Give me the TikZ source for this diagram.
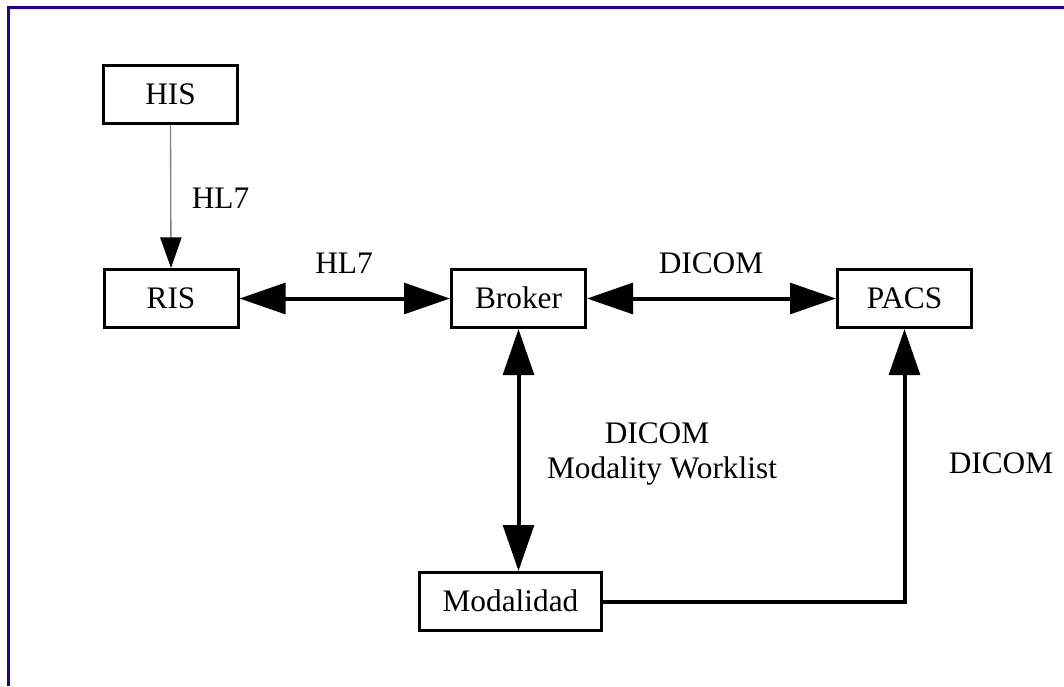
\documentclass[tikz,border=0pt]{standalone}
\usepackage{fontspec}
\setmainfont{Liberation Serif}
\usetikzlibrary{arrows.meta}
\definecolor{framecol}{HTML}{2200A0}
\definecolor{thinline}{HTML}{808080}
\begin{document}
\begin{tikzpicture}[x=0.75pt,y=-0.75pt,
  every node/.style={font=\fontsize{23.5}{26}\selectfont, inner sep=0pt},
  sysbox/.style={draw=black, line width=2.25pt, fill=white,
    minimum width=100.5pt, minimum height=43.5pt,
    text height=15.5pt, text depth=0pt},
  lbl/.style={anchor=base},
  link/.style={line width=3pt,
    {Triangle[length=34.5pt,width=23pt]}-{Triangle[length=34.5pt,width=23pt]}},
  onelink/.style={line width=3pt, -{Triangle[length=34.5pt,width=23pt]}},
  hl7link/.style={draw=thinline, line width=1pt,
    -{Triangle[length=23pt,width=16pt,color=black]}}
]
\useasboundingbox (0,0) rectangle (1064,686);

% frame (top and left edges)
\draw[framecol, line width=2.25pt] (1064,7.5) -- (8.5,7.5) -- (8.5,686);

% systems
\node[sysbox] (his)    at (170.5,94)   {HIS};
\node[sysbox] (ris)    at (171,298.5)  {RIS};
\node[sysbox] (broker) at (518.5,298.5){Broker};
\node[sysbox] (pacs)   at (904.5,298.5){PACS};
\node[sysbox, minimum width=136.5pt] (modal) at (510.5,601.5) {Modalidad};

% connections
\draw[hl7link] (his.south) -- (ris.north);
\draw[link] (ris.east) -- (broker.west);
\draw[link] (broker.east) -- (pacs.west);
\draw[link] (broker.south) -- (broker.south |- modal.north);
\draw[onelink] (modal.east) -| (pacs.south);

% protocol labels
\node[lbl] (l1) at (220.5,208) {HL7};
\node[lbl] (l2) at (344,273)   {HL7};
\node[lbl] (l3) at (711,273)   {DICOM};
\node[lbl] (l4) at (657,443)   {DICOM};
\node[lbl] (l5) at (662,478)   {Modality Worklist};
\node[lbl] (l6) at (1001,473)  {DICOM};
\end{tikzpicture}
\end{document}
